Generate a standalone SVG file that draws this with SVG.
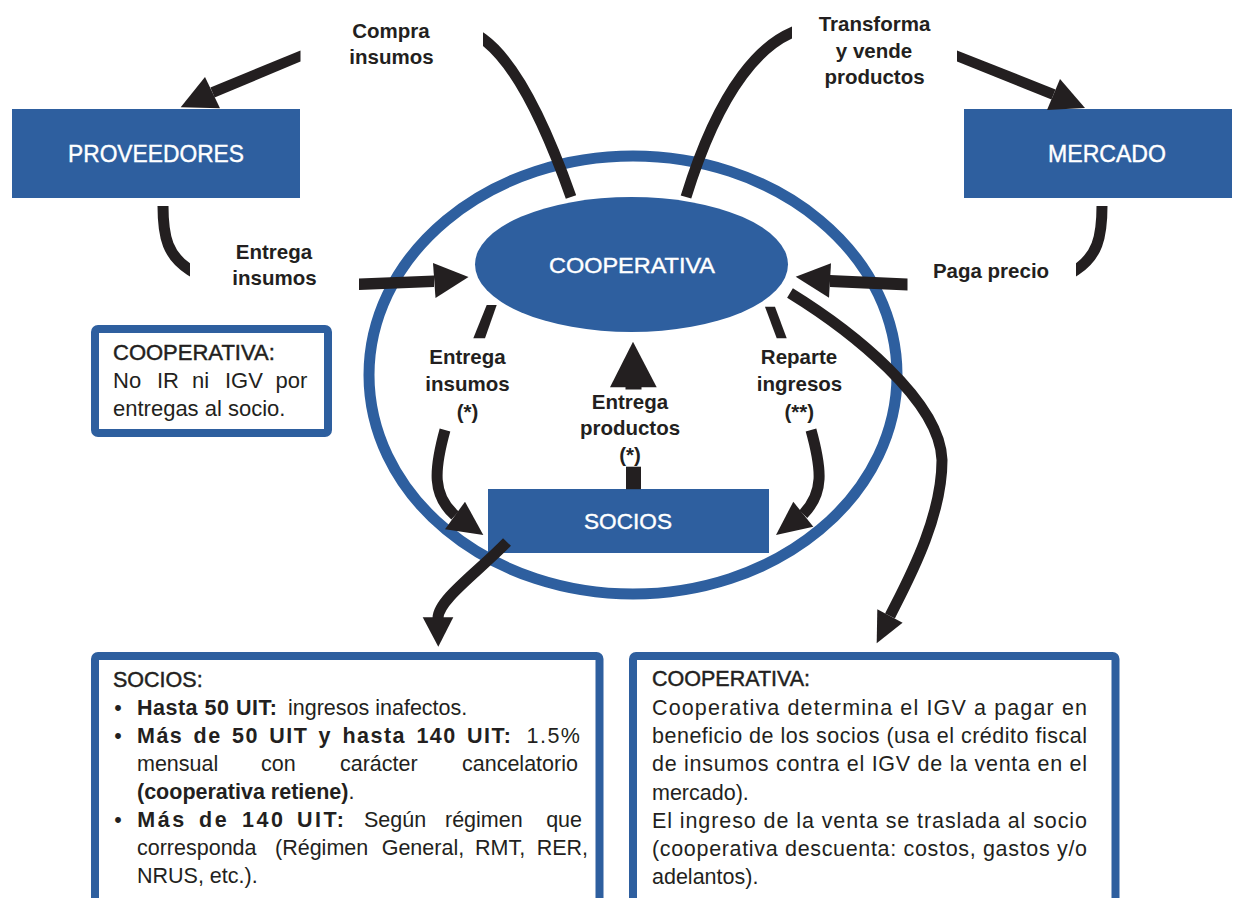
<svg xmlns="http://www.w3.org/2000/svg" width="1241" height="898" viewBox="0 0 1241 898">
<defs>
<style>
text{font-family:"Liberation Sans",Arial,sans-serif}
.lbl{font-weight:bold;font-size:20.5px;fill:#231f20;text-anchor:middle}
.ttl{font-size:24px;fill:#fff;text-anchor:middle;stroke:#fff;stroke-width:0.4}
.tx{font-size:21.5px;fill:#231f20}
.sm{font-size:22px}
.hd{stroke:#231f20;stroke-width:0.45}
.b{font-weight:bold}
.ls1{letter-spacing:1.5px}
.ls3{letter-spacing:2.5px}
.end{text-anchor:end}
.blue{fill:#2e5f9f}
.ring{fill:none;stroke:#2e5f9f;stroke-width:11}
.box{fill:#fff;stroke:#2e5f9f;stroke-width:8}
.sh{fill:none;stroke:#231f20;stroke-width:11;stroke-linecap:butt}
.ah{fill:#231f20}
</style>
<clipPath id="c1"><rect x="483" y="0" width="200" height="260"/></clipPath>
<clipPath id="c2"><rect x="600" y="0" width="192" height="260"/></clipPath>
<clipPath id="c3"><rect x="100" y="190" width="90" height="100"/></clipPath>
<clipPath id="c4"><rect x="1076" y="190" width="60" height="100"/></clipPath>
</defs>
<rect width="1241" height="898" fill="#fff"/>

<g id="cooperativa-ambito">
<ellipse class="ring" cx="633" cy="375" rx="264" ry="219"/>
</g>

<g id="proveedores">
<rect class="blue" x="12" y="109" width="288" height="89"/>
<text class="ttl" x="156" y="162" textLength="176" lengthAdjust="spacingAndGlyphs">PROVEEDORES</text>
</g>

<g id="mercado">
<rect class="blue" x="964" y="109" width="268" height="89"/>
<text class="ttl" x="1107" y="162" textLength="118" lengthAdjust="spacingAndGlyphs">MERCADO</text>
</g>

<g id="cooperativa">
<ellipse class="blue" cx="631.5" cy="264.5" rx="156.5" ry="67.5"/>
<text class="ttl" x="632" y="273" style="font-size:22.5px" textLength="166" lengthAdjust="spacingAndGlyphs">COOPERATIVA</text>
</g>

<g id="socios">
<rect class="blue" x="488" y="489" width="281" height="64"/>
<text class="ttl" x="628" y="529" style="font-size:22.5px" textLength="88" lengthAdjust="spacingAndGlyphs">SOCIOS</text>
</g>

<g id="nota-cooperativa-entregas">
<rect class="box" x="95" y="329" width="233" height="104" rx="3"/>
<text class="tx sm hd" x="113" y="360">COOPERATIVA:</text>
<text class="tx sm" y="388"><tspan x="113">No</tspan><tspan x="157">IR</tspan><tspan x="192">ni</tspan><tspan x="225">IGV</tspan><tspan x="275.5">por</tspan></text>
<text class="tx sm" x="113" y="416">entregas al socio.</text>
</g>

<g id="nota-socios">
<rect class="box" x="95" y="656" width="504.5" height="260" rx="3"/>
<text class="tx hd" x="113" y="687">SOCIOS:</text>
<text class="tx" x="118" y="715" text-anchor="middle">•</text>
<text class="tx" y="715"><tspan class="b" x="137" style="letter-spacing:0.5px">Hasta 50 UIT:</tspan><tspan x="288">ingresos inafectos.</tspan></text>
<text class="tx" x="118" y="743" text-anchor="middle">•</text>
<text class="tx b ls1" y="743"><tspan x="137">Más</tspan><tspan x="193.6">de</tspan><tspan x="232">50</tspan><tspan x="269.2">UIT</tspan><tspan x="318.6">y</tspan><tspan x="342.4">hasta</tspan><tspan x="416.4">140</tspan><tspan x="467.1">UIT:</tspan></text>
<text class="tx ls1 end" x="581.5" y="743">1.5%</text>
<text class="tx" y="771"><tspan x="137">mensual</tspan><tspan x="261">con</tspan><tspan x="340">carácter</tspan><tspan x="462">cancelatorio</tspan></text>
<text class="tx" x="137" y="799"><tspan class="b">(cooperativa retiene)</tspan>.</text>
<text class="tx" x="118" y="827" text-anchor="middle">•</text>
<text class="tx b ls3" y="827"><tspan x="137.3">Más</tspan><tspan x="199">de</tspan><tspan x="242">140</tspan><tspan x="297">UIT:</tspan></text>
<text class="tx" y="827"><tspan x="364">Según</tspan><tspan x="445">régimen</tspan></text>
<text class="tx end" x="582" y="827">que</text>
<text class="tx" y="855"><tspan x="137">corresponda</tspan><tspan x="275">(Régimen</tspan><tspan x="381.7">General,</tspan><tspan x="475">RMT,</tspan><tspan x="536.7">RER,</tspan></text>
<text class="tx" x="137" y="883">NRUS, etc.).</text>
</g>

<g id="nota-cooperativa-igv">
<rect class="box" x="633" y="656" width="482.5" height="260" rx="3"/>
<text class="tx hd" x="652" y="686">COOPERATIVA:</text>
<text class="tx" x="652" y="715" textLength="435" lengthAdjust="spacing">Cooperativa determina el IGV a pagar en</text>
<text class="tx" x="652" y="743" textLength="435" lengthAdjust="spacing">beneficio de los socios (usa el crédito fiscal</text>
<text class="tx" x="652" y="771" textLength="435" lengthAdjust="spacing">de insumos contra el IGV de la venta en el</text>
<text class="tx" x="652" y="800">mercado).</text>
<text class="tx" x="652" y="828" textLength="435" lengthAdjust="spacing">El ingreso de la venta se traslada al socio</text>
<text class="tx" x="652" y="856" textLength="435" lengthAdjust="spacing">(cooperativa descuenta: costos, gastos y/o</text>
<text class="tx" x="652" y="884">adelantos).</text>
</g>

<g id="connectors">
<path class="sh" clip-path="url(#c1)" d="M 477 34.5 L 483 39 C 505 55, 535 95, 571 197"/>
<polygon class="ah" points="300.5,50.5 300.5,61.5 214.6,97.6 210.4,87.4"/>
<polygon class="ah" points="205,77 220,108.3 180.7,107.3"/>
<path class="sh" clip-path="url(#c2)" d="M 798 30 L 792 32.5 C 765 44, 722 80, 686 197"/>
<polygon class="ah" points="957,50.5 957,61.5 1051.5,99.6 1055.5,89.4"/>
<polygon class="ah" points="1060,79 1085,108 1047,110"/>
<path class="sh" clip-path="url(#c3)" d="M 163 206 C 163 238, 168 256, 190 270 L 196 274"/>
<polygon class="ah" points="359,278.5 359,290 434,287 434,275.5"/>
<polygon class="ah" points="433,263 435.5,298 468.5,277"/>
<path class="sh" clip-path="url(#c4)" d="M 1102 206 C 1102 238, 1097 256, 1076 270 L 1070 274"/>
<polygon class="ah" points="907.5,278.5 907.5,290.5 830,287 830,275"/>
<polygon class="ah" points="831,263.3 829,297.7 795.7,276.7"/>
<polygon class="ah" points="486.7,305 496.7,305 485,338.3 473.3,338.3"/>
<path class="sh" d="M 445 430 C 434 470, 432 495, 455 515.5"/>
<polygon class="ah" points="445,529.3 465,501.7 483.3,535"/>
<polygon class="ah" points="765,306.7 775,306.7 786.7,338.3 776.7,338.3"/>
<path class="sh" d="M 811 430 C 822 470, 824 493, 803.3 514.2"/>
<polygon class="ah" points="813.3,526.7 793.3,501.7 776,535"/>
<rect class="ah" x="626" y="466.7" width="15" height="22.5"/>
<rect class="ah" x="625.5" y="385" width="16" height="4.5"/>
<polygon class="ah" points="633,341.7 610,387.3 656.7,387.3"/>
<path class="sh" d="M 507 542 C 478 572, 438 600, 438 618"/>
<polygon class="ah" points="422.7,617.3 453.3,617.3 438.3,646.7"/>
<path class="sh" d="M 790 293 C 850 330, 940 400, 942 460 C 942 520, 906 584, 890 616"/>
<polygon class="ah" points="877.3,609.3 902.6,622.7 876.7,643.3"/>
</g>

<g id="labels">
<text class="lbl" x="391" y="38">Compra</text>
<text class="lbl" x="391.5" y="64">insumos</text>
<text class="lbl" x="874.5" y="31">Transforma</text>
<text class="lbl" x="874" y="57.5">y vende</text>
<text class="lbl" x="874.5" y="84">productos</text>
<text class="lbl" x="274" y="258.5">Entrega</text>
<text class="lbl" x="274.5" y="285">insumos</text>
<text class="lbl" x="991" y="277.5">Paga precio</text>
<text class="lbl" x="467.5" y="364">Entrega</text>
<text class="lbl" x="467.5" y="391">insumos</text>
<text class="lbl" x="467.5" y="419">(*)</text>
<text class="lbl" x="630" y="408.5">Entrega</text>
<text class="lbl" x="630" y="435">productos</text>
<text class="lbl" x="630" y="462">(*)</text>
<text class="lbl" x="799" y="364">Reparte</text>
<text class="lbl" x="799.5" y="391">ingresos</text>
<text class="lbl" x="799.3" y="419">(**)</text>
</g>
</svg>
